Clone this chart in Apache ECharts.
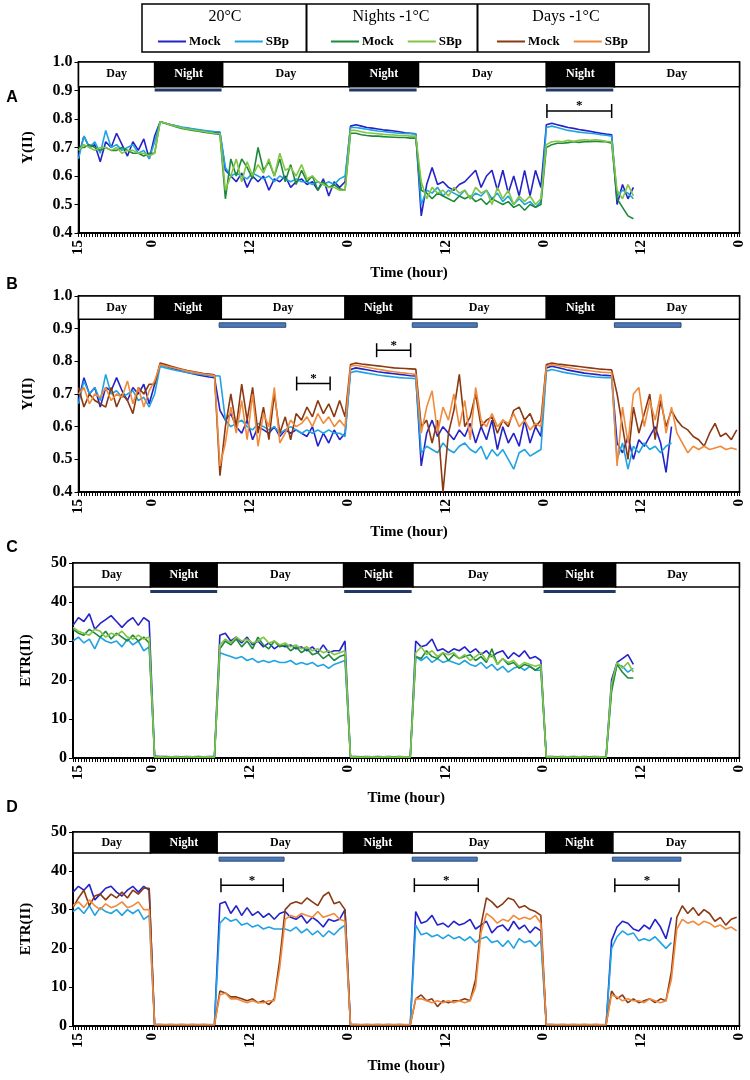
<!DOCTYPE html>
<html><head><meta charset="utf-8">
<script src="https://cdn.jsdelivr.net/npm/echarts@6/dist/echarts.min.js"></script>
<style>html,body{margin:0;padding:0;background:#fff}#c{width:750px;height:1080px}</style>
</head><body><div id="c"></div>
<script>
// x unit = 20 minutes from 15:00 on day 1; samples every 2 units (40 min)
const timeTickUnits = [0, 27, 63, 99, 135, 171, 207, 243];
const timeTickLabels = ['15', '0', '12', '0', '12', '0', '12', '0'];

// ---------- Panel A : Y(II), 20°C vs Nights -1°C ----------
const A_m20 = [
 0.67,0.74,0.70,0.71,0.65,0.72,0.70,0.75,0.71,0.67,0.72,0.69,0.73,0.66,0.74,
 0.79,0.785,0.78,0.775,0.77,0.767,0.764,0.761,0.758,0.756,0.754,0.752,
 0.62,0.60,0.58,0.61,0.56,0.60,0.58,0.60,0.55,0.59,0.58,0.60,0.56,0.58,0.59,0.57,0.58,0.55,0.59,0.53,0.58,0.56,0.58,
 0.775,0.78,0.775,0.77,0.768,0.765,0.762,0.76,0.758,0.755,0.752,0.75,0.748,
 0.46,0.57,0.63,0.57,0.58,0.56,0.55,0.57,0.58,0.60,0.62,0.56,0.60,0.62,0.55,0.62,0.54,0.60,0.53,0.62,0.53,0.62,0.56,
 0.78,0.785,0.78,0.775,0.77,0.767,0.763,0.76,0.757,0.753,0.75,0.747,0.745,
 0.50,0.57,0.52,0.56];
const A_s20 = [
 0.66,0.74,0.70,0.72,0.68,0.76,0.70,0.71,0.69,0.70,0.71,0.68,0.69,0.66,0.72,
 0.79,0.785,0.78,0.776,0.772,0.769,0.766,0.763,0.76,0.758,0.756,0.755,
 0.63,0.60,0.61,0.60,0.59,0.61,0.60,0.59,0.60,0.58,0.60,0.59,0.58,0.59,0.58,0.58,0.57,0.58,0.57,0.58,0.57,0.59,0.60,
 0.77,0.77,0.767,0.764,0.761,0.758,0.756,0.754,0.752,0.75,0.749,0.748,0.747,
 0.50,0.55,0.54,0.56,0.53,0.55,0.54,0.53,0.55,0.52,0.54,0.53,0.55,0.52,0.54,0.51,0.53,0.50,0.52,0.50,0.51,0.49,0.51,
 0.77,0.775,0.77,0.765,0.76,0.757,0.754,0.752,0.75,0.748,0.745,0.743,0.74,
 0.53,0.55,0.54,0.52];
const A_mN = [
 0.70,0.70,0.71,0.70,0.69,0.70,0.69,0.69,0.70,0.69,0.68,0.68,0.67,0.68,0.68,
 0.79,0.784,0.778,0.772,0.767,0.763,0.76,0.757,0.754,0.751,0.748,0.746,
 0.52,0.66,0.60,0.66,0.63,0.59,0.70,0.62,0.65,0.60,0.66,0.58,0.64,0.57,0.62,0.58,0.60,0.55,0.58,0.56,0.57,0.555,0.55,
 0.75,0.75,0.745,0.742,0.74,0.74,0.738,0.737,0.736,0.735,0.735,0.733,0.733,
 0.55,0.54,0.52,0.54,0.53,0.52,0.51,0.53,0.52,0.53,0.51,0.52,0.50,0.52,0.51,0.50,0.51,0.49,0.50,0.48,0.50,0.49,0.50,
 0.70,0.71,0.715,0.715,0.717,0.72,0.718,0.72,0.72,0.722,0.72,0.72,0.715,
 0.52,0.49,0.46,0.45];
const A_sN = [
 0.69,0.71,0.70,0.69,0.70,0.70,0.69,0.70,0.68,0.69,0.69,0.68,0.68,0.67,0.68,
 0.79,0.785,0.779,0.774,0.769,0.765,0.762,0.759,0.756,0.753,0.75,0.748,
 0.55,0.60,0.66,0.58,0.65,0.60,0.64,0.61,0.66,0.60,0.68,0.62,0.63,0.60,0.64,0.59,0.60,0.58,0.57,0.56,0.56,0.55,0.55,
 0.76,0.76,0.755,0.752,0.75,0.748,0.746,0.745,0.744,0.742,0.742,0.74,0.74,
 0.58,0.52,0.56,0.54,0.55,0.53,0.56,0.54,0.55,0.52,0.56,0.54,0.55,0.50,0.56,0.52,0.55,0.50,0.53,0.51,0.53,0.50,0.52,
 0.71,0.72,0.722,0.72,0.725,0.722,0.725,0.727,0.725,0.727,0.725,0.722,0.72,
 0.55,0.52,0.57,0.53];

// ---------- Panel B : Y(II), 20°C vs Days -1°C ----------
const B_m20 = [
 0.68,0.75,0.70,0.72,0.66,0.72,0.71,0.75,0.71,0.68,0.72,0.70,0.73,0.67,0.73,
 0.79,0.785,0.78,0.775,0.77,0.766,0.762,0.758,0.755,0.752,0.75,0.65,
 0.62,0.64,0.60,0.58,0.62,0.56,0.60,0.59,0.58,0.60,0.57,0.59,0.58,0.59,0.58,0.57,0.60,0.54,0.58,0.55,0.59,0.56,0.58,
 0.775,0.78,0.777,0.774,0.771,0.768,0.766,0.764,0.762,0.76,0.758,0.756,0.755,
 0.48,0.58,0.62,0.57,0.60,0.58,0.56,0.59,0.57,0.61,0.55,0.60,0.56,0.62,0.53,0.60,0.55,0.58,0.54,0.62,0.55,0.60,0.57,
 0.78,0.785,0.781,0.777,0.773,0.77,0.767,0.764,0.762,0.76,0.758,0.757,0.756,
 0.55,0.52,0.57,0.50,0.56,0.54,0.57,0.60,0.55,0.46,0.60];
const B_s20 = [
 0.67,0.74,0.70,0.72,0.68,0.76,0.70,0.71,0.69,0.70,0.71,0.68,0.69,0.66,0.70,
 0.785,0.78,0.776,0.772,0.769,0.766,0.763,0.761,0.759,0.757,0.756,0.755,
 0.62,0.60,0.61,0.62,0.60,0.59,0.61,0.60,0.59,0.60,0.58,0.59,0.60,0.59,0.58,0.59,0.58,0.59,0.58,0.59,0.58,0.58,0.57,
 0.765,0.77,0.767,0.764,0.761,0.758,0.756,0.754,0.752,0.75,0.749,0.748,0.747,
 0.52,0.54,0.53,0.52,0.55,0.53,0.52,0.54,0.55,0.53,0.52,0.54,0.50,0.53,0.51,0.53,0.50,0.47,0.52,0.53,0.51,0.52,0.53,
 0.77,0.775,0.771,0.767,0.764,0.761,0.758,0.756,0.754,0.752,0.751,0.75,0.75,
 0.50,0.55,0.47,0.54,0.52,0.55,0.53,0.54,0.52,0.54,0.55];
const B_mD = [
 0.72,0.66,0.70,0.68,0.67,0.66,0.72,0.66,0.70,0.68,0.64,0.72,0.70,0.73,0.73,
 0.795,0.79,0.785,0.78,0.776,0.772,0.769,0.766,0.763,0.761,0.759,0.45,
 0.60,0.70,0.60,0.73,0.62,0.72,0.58,0.66,0.56,0.70,0.58,0.63,0.56,0.64,0.62,0.66,0.63,0.68,0.64,0.67,0.63,0.68,0.63,
 0.79,0.795,0.792,0.79,0.788,0.786,0.784,0.782,0.78,0.779,0.778,0.777,0.776,
 0.60,0.62,0.55,0.62,0.40,0.58,0.65,0.76,0.60,0.63,0.70,0.60,0.62,0.63,0.58,0.62,0.60,0.65,0.66,0.62,0.64,0.60,0.62,
 0.79,0.795,0.792,0.79,0.788,0.786,0.784,0.782,0.78,0.778,0.776,0.775,0.774,
 0.70,0.60,0.50,0.66,0.58,0.64,0.70,0.56,0.68,0.60,0.65,0.62,0.60,0.59,0.57,0.56,0.54,0.58,0.61,0.57,0.58,0.56,0.59];
const B_sD = [
 0.70,0.72,0.67,0.70,0.69,0.72,0.68,0.70,0.69,0.74,0.67,0.72,0.66,0.71,0.74,
 0.79,0.786,0.782,0.778,0.774,0.77,0.767,0.764,0.761,0.759,0.757,0.48,
 0.55,0.66,0.58,0.68,0.56,0.70,0.54,0.64,0.60,0.72,0.55,0.58,0.62,0.60,0.61,0.63,0.60,0.64,0.61,0.63,0.60,0.62,0.60,
 0.785,0.788,0.785,0.782,0.779,0.776,0.773,0.77,0.768,0.766,0.764,0.762,0.76,
 0.58,0.66,0.71,0.58,0.66,0.62,0.70,0.60,0.68,0.56,0.72,0.62,0.60,0.64,0.60,0.62,0.61,0.64,0.60,0.62,0.59,0.61,0.60,
 0.785,0.79,0.787,0.784,0.781,0.778,0.775,0.773,0.771,0.769,0.767,0.766,0.765,
 0.48,0.66,0.55,0.70,0.72,0.60,0.68,0.62,0.70,0.58,0.66,0.58,0.55,0.52,0.54,0.53,0.54,0.53,0.535,0.54,0.53,0.535,0.53];

// ---------- Panel C : ETR(II), 20°C vs Nights -1°C (starts one sample earlier) ----------
const C_m20 = [
 34,36,35,37,33,34.5,35.5,36.5,35,33.5,35,36,34,36,35,
 0.5,0.4,0.4,0.3,0.4,0.3,0.4,0.3,0.4,0.3,0.4,0.4,
 31.5,32,30,31,29.5,31,29,30,28.5,29.5,28,29,28.5,29,28,28.5,27.5,28.5,27,29,27,27.5,27.5,30,
 0.4,0.4,0.3,0.4,0.3,0.4,0.3,0.4,0.3,0.4,0.3,0.4,
 30,28.5,29,30.5,27.5,28,27,28,27.5,28.5,27,28,26.5,27.5,26,27,27.5,25.5,27,26,27.5,25.5,26,25,
 0.4,0.4,0.3,0.4,0.3,0.4,0.3,0.4,0.3,0.4,0.3,0.4,
 20,24.5,25.5,26.5,24];
const C_s20 = [
 30,31,29.5,30.5,28,31,30,29.5,30,28.5,30.5,29,30,27.5,28.5,
 0.3,0.3,0.3,0.2,0.3,0.2,0.3,0.2,0.3,0.2,0.3,0.3,
 27,26.5,26,25.5,26,25,25.5,24.5,25,24.5,25,24.5,24.5,25,24,24.5,24,24.5,23.5,24,23,24,24.5,25,
 0.3,0.3,0.2,0.3,0.2,0.3,0.2,0.3,0.2,0.3,0.2,0.3,
 26,25,26,24.5,25.5,24.5,25,24.5,24,25,24,23.5,24.5,23,24,22.5,23.5,22,23,23.5,22.5,23.5,22.5,22.5,
 0.3,0.3,0.2,0.3,0.2,0.3,0.2,0.3,0.2,0.3,0.2,0.3,
 18,24,23.5,22,23];
const C_mN = [
 33,32,31.5,33,32,31,32.5,30.5,32,31,30,31.5,30,31,29.5,
 0.3,0.2,0.3,0.2,0.3,0.2,0.3,0.2,0.3,0.2,0.3,0.2,
 28,30,29,30.5,28.5,30,28,31,29,28,30,28.5,29,27.5,28.5,27,28,26.5,27,25.5,26.5,25,26,26.5,
 0.3,0.2,0.3,0.2,0.3,0.2,0.3,0.2,0.3,0.2,0.3,0.2,
 26,25.5,27.5,26,25.5,27,25,26.5,25.5,26,26.5,25,26,24.5,28,24,25.5,24,24.5,23,24,23.5,22.5,23.5,
 0.3,0.2,0.3,0.2,0.3,0.2,0.3,0.2,0.3,0.2,0.3,0.2,
 17,24,22,20.5,20.5];
const C_sN = [
 33.5,32.5,32,31.5,33,32.5,31,32,31.5,32.5,31,30.5,31.5,30.5,31,
 0.3,0.3,0.2,0.3,0.3,0.2,0.3,0.3,0.2,0.3,0.3,0.2,
 29,30.5,29.5,31,30,30.5,29.5,30,31,29.5,30,29,29.5,28.5,29,28,28.5,27.5,28,27,27.5,26.5,27,27.5,
 0.3,0.3,0.2,0.3,0.3,0.2,0.3,0.3,0.2,0.3,0.3,0.2,
 27,28.5,26.5,27.5,26,27,26.5,27,25.5,26.5,25,26,27,25,26.5,24,25.5,24.5,25,23.5,24.5,24,23.5,24,
 0.3,0.3,0.2,0.3,0.3,0.2,0.3,0.3,0.2,0.3,0.3,0.2,
 19,24.5,23,24.5,22];

// ---------- Panel D : ETR(II), 20°C vs Days -1°C ----------
const D_m20 = [
 34.5,36,35,36.5,32.5,34,35.5,36,34.5,33.5,35,36,34.5,36,35,
 0.4,0.4,0.3,0.4,0.3,0.4,0.3,0.4,0.3,0.4,0.3,0.4,
 31.5,32,29,31,28.5,30.5,28.5,29.5,28,29,27.5,29,29.5,28,27.5,28.5,26.5,28,27,25.5,27.5,27,27.5,30,
 0.4,0.4,0.3,0.4,0.3,0.4,0.3,0.4,0.3,0.4,0.3,0.4,
 29.5,26.5,27,28.5,26,26.5,25.5,27,26,26.5,27.5,25,26,27,24,25.5,26,24.5,27,25,26,24,25.5,24.5,
 0.4,0.4,0.3,0.4,0.3,0.4,0.3,0.4,0.3,0.4,0.3,0.4,
 22,25.5,27,26.5,25,24.5,26,25,27.5,25.5,22.5,28];
const D_s20 = [
 29.5,30.5,29,31,28.5,30.5,29.5,29,30,28.5,30,29,30,27.5,28.5,
 0.3,0.3,0.2,0.3,0.2,0.3,0.2,0.3,0.2,0.3,0.2,0.3,
 26.5,28,27,27.5,26,26.5,25.5,26,25,25.5,25,25,25,24.5,25.5,24,25,23.5,24.5,23,24.5,23.5,25,26,
 0.3,0.3,0.2,0.3,0.2,0.3,0.2,0.3,0.2,0.3,0.2,0.3,
 26,23.5,24,23,23.5,22.5,23.5,22.5,23,22,23,21.5,22.5,23,21.5,22,20.5,22,20,22.5,21.5,22,20.5,22,
 0.3,0.3,0.2,0.3,0.2,0.3,0.2,0.3,0.2,0.3,0.2,0.3,
 20,23,24.5,23.5,24,22,22.5,22,23,21.5,20,21.5];
const D_mD = [
 30.5,33,35,31,33.5,34,32.5,34,33,34.5,33,35,34,35.5,35.5,
 0.3,0.3,0.3,0.3,0.3,0.3,0.3,0.3,0.3,0.3,0.3,0.3,
 9,8.5,7.5,7.5,7,6.5,7,6,6.5,5.5,7,17,30,31.5,32,31.5,33,32,31,33.5,34.5,31.5,32,30,
 0.3,0.3,0.3,0.3,0.3,0.3,0.3,0.3,0.3,0.3,0.3,0.3,
 7,8,6.5,7,5,6.5,6,6.5,6.5,7,6.5,12,26,33,32,30.5,31.5,33,32.5,30.5,31,30,29.5,28.5,
 0.3,0.3,0.3,0.3,0.3,0.3,0.3,0.3,0.3,0.3,0.3,0.3,
 9,7,8,6,7,6,6.5,7,6,7,6.5,14,28,31,29,30.5,28.5,30,29,27,28,26,27.5,28];
const D_sD = [
 31,32,30.5,32.5,31,30,31.5,30.5,31,32,30.5,31,32,30,30,
 0.4,0.4,0.4,0.4,0.4,0.4,0.4,0.4,0.4,0.4,0.4,0.4,
 8,8.5,7,7,6.5,6,6.5,6,6,6.5,6.5,15,27.5,28.5,28,29,28.5,28,29.5,28,28.5,29,27.5,27,
 0.4,0.4,0.4,0.4,0.4,0.4,0.4,0.4,0.4,0.4,0.4,0.4,
 7,7,6.5,6,6.5,6,6.5,6,6.5,6,6.5,10,24,29,28,26.5,27.5,27,28.5,27.5,28,27.5,28.5,26.5,
 0.4,0.4,0.4,0.4,0.4,0.4,0.4,0.4,0.4,0.4,0.4,0.4,
 8,7.5,6.5,7,6.5,6.5,6,7,6.5,6,6.5,12,25,27.5,26.5,27,26,27,26.5,25.5,26,25,25.5,24.5];

// Day / Night band boundaries (x units), alternating Day, Night, Day ...
const bandEdgesA = [0, 28, 53, 99.5, 125, 172, 197, 243];
const bandEdgesB = [0, 28, 52.5, 98, 122.5, 172, 197, 243];
const bandEdgesC = [-2, 26.5, 51, 97.5, 123, 171, 197.5, 243];
const bandEdgesD = [-2, 26.5, 51, 97.5, 122.7, 171.8, 196.5, 243];
// treatment bars (x ranges)
const barsA = [[28, 52.6], [99.5, 124.3], [171.8, 196.6]];
const barsB = [[51.7, 76.2], [122.7, 146.6], [197, 221.5]];
const barsC = [[26.4, 51], [97.7, 122.5], [171, 197.5]];
const barsD = [[51.7, 75.6], [122.7, 146.6], [196.3, 221.5]];
// significance brackets [x1, x2, y]
const bracketsA = [[172.2, 196, 0.828]];
const bracketsB = [[80.2, 92.5, 0.732], [109.6, 122.1, 0.834]];
const bracketsD = [[52.4, 75.3, 36.3], [123.5, 147, 36.3], [197.2, 220.8, 36.3]];

const SERIF = "'Liberation Serif','Times New Roman',serif";
const colors = {
  '20°C Mock': '#2323c9', '20°C SBp': '#20a3e3',
  'Nights -1°C Mock': '#1d8a3b', 'Nights -1°C SBp': '#82c443',
  'Days -1°C Mock': '#8a3912', 'Days -1°C SBp': '#f08a3c'
};

const panels = [
  {grid:{left:78.5, top:62, width:661, height:171}, xmin:0, ymin:0.4, ymax:1.0, yint:0.1, dec:1, yname:'Y(II)', nameGap:43,
   bandLow:0.913, edges:bandEdgesA, bars:barsA, barY:0.902, barH:3, barFill:'#1f3864', barStroke:null, brackets:bracketsA,
   series:[['20°C Mock',A_m20],['20°C SBp',A_s20],['Nights -1°C Mock',A_mN],['Nights -1°C SBp',A_sN]]},
  {grid:{left:78.5, top:296, width:661, height:196}, xmin:0, ymin:0.4, ymax:1.0, yint:0.1, dec:1, yname:'Y(II)', nameGap:43,
   bandLow:0.9286, edges:bandEdgesB, bars:barsB, barY:0.911, barH:4.5, barFill:'#4a78b8', barStroke:'#2c4c7c', brackets:bracketsB,
   series:[['20°C Mock',B_m20],['20°C SBp',B_s20],['Days -1°C Mock',B_mD],['Days -1°C SBp',B_sD]]},
  {grid:{left:73, top:563, width:666.4, height:195}, xmin:-2, ymin:0, ymax:50, yint:10, dec:0, yname:'ETR(II)', nameGap:39,
   bandLow:43.85, edges:bandEdgesC, bars:barsC, barY:42.7, barH:3, barFill:'#1f3864', barStroke:null, brackets:[],
   series:[['20°C Mock',C_m20],['20°C SBp',C_s20],['Nights -1°C Mock',C_mN],['Nights -1°C SBp',C_sN]]},
  {grid:{left:73, top:832, width:666.4, height:194}, xmin:-2, ymin:0, ymax:50, yint:10, dec:0, yname:'ETR(II)', nameGap:39,
   bandLow:44.6, edges:bandEdgesD, bars:barsD, barY:43.0, barH:4, barFill:'#4a78b8', barStroke:'#2c4c7c', brackets:bracketsD,
   series:[['20°C Mock',D_m20],['20°C SBp',D_s20],['Days -1°C Mock',D_mD],['Days -1°C SBp',D_sD]]}
];

function barRender(yLevel, h, fill, stroke) {
  return function (params, api) {
    const a = api.coord([api.value(0), yLevel]);
    const b = api.coord([api.value(1), yLevel]);
    return {type:'rect', shape:{x:a[0], y:a[1]-h/2, width:b[0]-a[0], height:h},
      style:{fill:fill, stroke:stroke || 'none', lineWidth:stroke ? 1 : 0}};
  };
}
function bracketRender(params, api) {
  const y = api.value(2);
  const a = api.coord([api.value(0), y]);
  const b = api.coord([api.value(1), y]);
  const st = {stroke:'#000', lineWidth:1.5};
  return {type:'group', children:[
    {type:'line', shape:{x1:a[0], y1:a[1], x2:b[0], y2:b[1]}, style:st},
    {type:'line', shape:{x1:a[0], y1:a[1]-7, x2:a[0], y2:a[1]+7}, style:st},
    {type:'line', shape:{x1:b[0], y1:b[1]-7, x2:b[0], y2:b[1]+7}, style:st},
    {type:'text', x:(a[0]+b[0])/2, y:a[1]-5, style:{text:'*', fill:'#000', font:'bold 13px ' + SERIF,
      align:'center', verticalAlign:'middle', textAlign:'center', textVerticalAlign:'middle'}}
  ]};
}

const grid = [], xAxis = [], yAxis = [], series = [];
panels.forEach((p, k) => {
  grid.push(Object.assign({show:true, borderColor:'#000', borderWidth:1.5, containLabel:false}, p.grid));
  xAxis.push({gridIndex:k, type:'value', min:p.xmin, max:243, interval:1,
    name:'Time (hour)', nameLocation:'middle', nameGap:33,
    nameTextStyle:{fontFamily:SERIF, fontWeight:'bold', fontSize:15, color:'#000'},
    axisLine:{show:true, onZero:false, lineStyle:{color:'#000', width:2}},
    axisTick:{show:true, length:4, lineStyle:{color:'#000', width:1}},
    splitLine:{show:false},
    axisLabel:{show:true, rotate:90, margin:7, fontFamily:SERIF, fontWeight:'bold', fontSize:15, color:'#000',
      formatter: v => { const j = timeTickUnits.indexOf(Math.round(v)); return (j >= 0 && Math.abs(v - Math.round(v)) < 1e-6) ? timeTickLabels[j] : ''; }}
  });
  yAxis.push({gridIndex:k, type:'value', min:p.ymin, max:p.ymax, interval:p.yint,
    name:p.yname, nameLocation:'middle', nameGap:p.nameGap, nameRotate:90,
    nameTextStyle:{fontFamily:SERIF, fontWeight:'bold', fontSize:15, color:'#000'},
    axisLine:{show:true, onZero:false, lineStyle:{color:'#000', width:2}},
    axisTick:{show:true, length:4, lineStyle:{color:'#000', width:1}},
    splitLine:{show:false},
    axisLabel:{margin:6, fontFamily:SERIF, fontWeight:'bold', fontSize:16, color:'#000',
      formatter: v => Number(v).toFixed(p.dec)}
  });
  p.series.forEach(([name, vals]) => {
    series.push({name:name, type:'line', xAxisIndex:k, yAxisIndex:k,
      data: vals.map((v, i) => [p.xmin + 2*i, v]),
      showSymbol:false, symbol:'none', color:colors[name], itemStyle:{color:colors[name]},
      lineStyle:{width:1.6, color:colors[name]}, animation:false, silent:true, z:3});
  });
  const bandData = [];
  for (let j = 0; j < p.edges.length - 1; j++) {
    const night = j % 2 === 1;
    bandData.push([
      {xAxis:p.edges[j], yAxis:p.bandLow, name: night ? 'Night' : 'Day',
       itemStyle:{color: night ? '#000' : '#fff', borderColor:'#000', borderWidth:1.5, opacity:1},
       label:{show:true, position:'inside', color: night ? '#fff' : '#000', fontFamily:SERIF, fontWeight:'bold', fontSize:12}},
      {xAxis:p.edges[j+1], yAxis:p.ymax}
    ]);
  }
  series.push({type:'custom', xAxisIndex:k, yAxisIndex:k, data:p.bars, encode:{x:[0,1]},
    renderItem: barRender(p.barY, p.barH, p.barFill, p.barStroke), silent:true, animation:false, z:4,
    markArea:{silent:true, data:bandData, animation:false}});
  if (p.brackets.length) {
    series.push({type:'custom', xAxisIndex:k, yAxisIndex:k, data:p.brackets, encode:{x:[0,1], y:2},
      renderItem: bracketRender, silent:true, animation:false, z:5});
  }
});

const legendCommon = {orient:'horizontal', icon:'rect', itemWidth:28, itemHeight:2, itemGap:14, top:30,
  selectedMode:false, formatter: n => n.split(' ').pop(),
  textStyle:{fontFamily:SERIF, fontWeight:'bold', fontSize:13, color:'#000', padding:[0,0,0,-2]}};
const legend = [
  Object.assign({left:153, data:['20°C Mock', '20°C SBp']}, legendCommon),
  Object.assign({left:326, data:['Nights -1°C Mock', 'Nights -1°C SBp']}, legendCommon),
  Object.assign({left:492, data:['Days -1°C Mock', 'Days -1°C SBp']}, legendCommon)
];

const txt = (t, x, y, font) => ({type:'text', x:x, y:y, silent:true,
  style:{text:t, fill:'#000', font:font, align:'center', verticalAlign:'middle', textAlign:'center', textVerticalAlign:'middle'}});
const graphic = [
  {type:'rect', silent:true, shape:{x:142, y:4, width:507, height:48}, style:{fill:'none', stroke:'#000', lineWidth:1.5}},
  {type:'line', silent:true, shape:{x1:306.5, y1:4, x2:306.5, y2:52}, style:{stroke:'#000', lineWidth:2}},
  {type:'line', silent:true, shape:{x1:477.5, y1:4, x2:477.5, y2:52}, style:{stroke:'#000', lineWidth:2}},
  txt('20°C', 225, 17, '16px ' + SERIF),
  txt('Nights -1°C', 391, 17, '16px ' + SERIF),
  txt('Days -1°C', 566, 17, '16px ' + SERIF),
  txt('A', 12, 98, "bold 16px 'Liberation Sans',Arial,sans-serif"),
  txt('B', 12, 285, "bold 16px 'Liberation Sans',Arial,sans-serif"),
  txt('C', 12, 548, "bold 16px 'Liberation Sans',Arial,sans-serif"),
  txt('D', 12, 808, "bold 16px 'Liberation Sans',Arial,sans-serif")
];

const chart = echarts.init(document.getElementById('c'), null, {renderer:'canvas'});
chart.setOption({backgroundColor:'#fff', animation:false, grid, xAxis, yAxis, series, legend, graphic});
</script></body></html>
